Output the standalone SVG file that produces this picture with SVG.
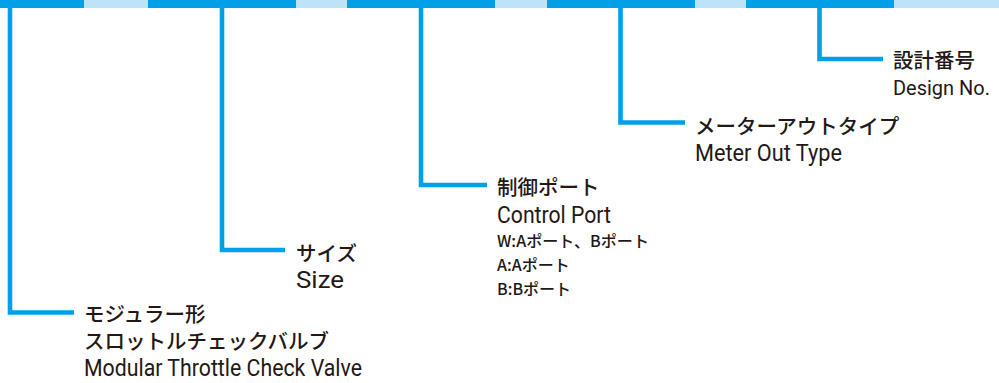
<svg xmlns="http://www.w3.org/2000/svg" width="999" height="383" viewBox="0 0 999 383">
<style>
.dark{fill:#00a0e9}
.light{fill:#bde3f8}
.conn{fill:none;stroke:#00a0e9;stroke-width:4.6;stroke-linejoin:miter}
.jp{font-family:"Noto Sans CJK JP","Noto Sans",sans-serif;font-size:20.5px;font-weight:500;fill:#231815}
.en{font-family:Roboto,"Liberation Sans",sans-serif;font-size:23px;fill:#231815}
.sm{font-family:"Noto Sans CJK JP","Noto Sans",sans-serif;font-size:16px;font-weight:500;fill:#231815}
</style>
<rect width="999" height="383" fill="#ffffff"/>
<g id="bar">
<rect class="dark" x="0" y="0" width="84" height="8"/>
<rect class="light" x="84" y="0" width="64" height="8"/>
<rect class="dark" x="148" y="0" width="148" height="8"/>
<rect class="light" x="296" y="0" width="51" height="8"/>
<rect class="dark" x="347" y="0" width="148" height="8"/>
<rect class="light" x="495" y="0" width="52" height="8"/>
<rect class="dark" x="547" y="0" width="148" height="8"/>
<rect class="light" x="695" y="0" width="51" height="8"/>
<rect class="dark" x="746" y="0" width="148" height="8"/>
<rect class="light" x="894" y="0" width="105" height="8"/>
</g>
<g id="connectors">
<path class="conn" d="M10 8 V312.5 H74"/>
<path class="conn" d="M222 8 V250 H285"/>
<path class="conn" d="M421 8 V185 H487"/>
<path class="conn" d="M620.5 8 V122.5 H685"/>
<path class="conn" d="M819.5 8 V59 H883"/>
</g>
<g id="node-model">
<text class="jp" x="84" y="322">モジュラー形</text>
<text class="jp" x="84" y="349">スロットルチェックバルブ</text>
<text class="en" x="84" y="376" textLength="278" lengthAdjust="spacingAndGlyphs">Modular Throttle Check Valve</text>
</g>
<g id="node-size">
<text class="jp" x="296" y="261">サイズ</text>
<text class="en" x="296" y="288" textLength="48" lengthAdjust="spacingAndGlyphs">Size</text>
</g>
<g id="node-port">
<text class="jp" x="497" y="195">制御ポート</text>
<text class="en" x="497" y="223" textLength="114" lengthAdjust="spacingAndGlyphs">Control Port</text>
<text class="sm" x="497" y="247" textLength="152" lengthAdjust="spacingAndGlyphs">W:Aポート、Bポート</text>
<text class="sm" x="497" y="271">A:Aポート</text>
<text class="sm" x="497" y="295">B:Bポート</text>
</g>
<g id="node-type">
<text class="jp" x="695" y="134">メーターアウトタイプ</text>
<text class="en" x="695" y="161" textLength="147" lengthAdjust="spacingAndGlyphs">Meter Out Type</text>
</g>
<g id="node-design">
<text class="jp" x="893" y="68">設計番号</text>
<text class="en" x="893" y="95" style="font-size:21px" textLength="97" lengthAdjust="spacingAndGlyphs">Design No.</text>
</g>
</svg>
